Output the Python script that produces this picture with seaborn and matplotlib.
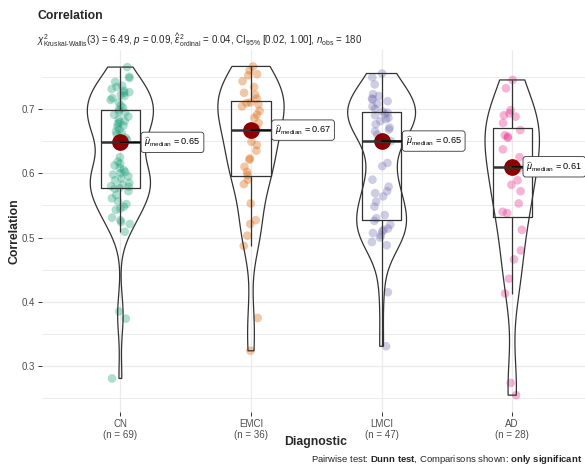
import numpy as np
import pandas as pd
import matplotlib
matplotlib.use("Agg")
import matplotlib.pyplot as plt
import seaborn as sns

# Diagnostic groups and the correlation values observed in each
groups = ["CN", "EMCI", "LMCI", "AD"]

cn = [0.281, 0.374, 0.385, 0.509, 0.521, 0.524, 0.527, 0.531, 0.543, 0.545,
      0.548, 0.552, 0.556, 0.561, 0.566, 0.572, 0.576,
      0.577, 0.579, 0.580, 0.582, 0.585, 0.589, 0.592, 0.595, 0.598, 0.600,
      0.602, 0.605, 0.608, 0.612, 0.615, 0.618, 0.625,
      0.648,
      0.652, 0.655, 0.660, 0.662, 0.665, 0.668, 0.672, 0.674, 0.677, 0.679,
      0.681, 0.684, 0.688, 0.691, 0.694, 0.696, 0.699,
      0.702, 0.705, 0.710, 0.714, 0.717, 0.720, 0.722, 0.725, 0.726, 0.728,
      0.731, 0.734, 0.736, 0.742, 0.748, 0.750, 0.765]

emci = [0.324, 0.375, 0.487, 0.503, 0.521, 0.527, 0.553, 0.583, 0.590, 0.597,
        0.602, 0.610, 0.621, 0.623, 0.635, 0.644, 0.649, 0.664, 0.670, 0.678,
        0.686, 0.691, 0.697, 0.704, 0.707, 0.709, 0.710, 0.716, 0.722, 0.725,
        0.734, 0.743, 0.752, 0.754, 0.760, 0.766]

lmci = [0.331, 0.415, 0.488, 0.493, 0.500, 0.504, 0.507, 0.510, 0.512, 0.514,
        0.520, 0.526, 0.530, 0.535, 0.548, 0.556, 0.564, 0.569, 0.572, 0.579,
        0.590, 0.611, 0.616, 0.650, 0.660, 0.665, 0.668, 0.671, 0.676, 0.681,
        0.684, 0.686, 0.690, 0.692, 0.694, 0.696, 0.700, 0.704, 0.708, 0.712,
        0.715, 0.716, 0.720, 0.723, 0.738, 0.749, 0.755]

ad = [0.255, 0.274, 0.413, 0.436, 0.466, 0.480, 0.512, 0.538, 0.540, 0.553,
      0.572, 0.582, 0.589, 0.608, 0.612, 0.625, 0.637, 0.655, 0.657, 0.659,
      0.667, 0.678, 0.688, 0.690, 0.693, 0.698, 0.732, 0.745]

palette = ["#1B9E77", "#D95F02", "#7570B3", "#E7298A"]

title = "Correlation"
subtitle = (r"$\chi^{2}_{\text{Kruskal-Wallis}}$(3) = 6.49, $\mathit{p}$ = 0.09, "
            r"$\widehat{\epsilon}^{2}_{\mathrm{ordinal}}$ = 0.04, "
            r"CI$_{\mathrm{95\%}}$ [0.02, 1.00], $\mathit{n}_{\mathrm{obs}}$ = 180")
caption = (r"Pairwise test: $\mathbf{Dunn\ test}$, Comparisons shown: "
           r"$\mathbf{only\ significant}$")

sns.set_theme(style="white")
plt.rcParams["font.family"] = ["Liberation Sans", "DejaVu Sans"]
plt.rcParams["mathtext.fontset"] = "custom"
plt.rcParams["mathtext.rm"] = "Liberation Sans"
plt.rcParams["mathtext.it"] = "Liberation Sans:italic"
plt.rcParams["mathtext.bf"] = "Liberation Sans:bold"

values = [cn, emci, lmci, ad]
df = pd.DataFrame({
    "Diagnostic": np.repeat(groups, [len(v) for v in values]),
    "Correlation": np.concatenate(values),
})
tick_labels = [f"{g}\n(n = {len(v)})" for g, v in zip(groups, values)]

W, H = 585, 470
fig = plt.figure(figsize=(W / 100, H / 100), dpi=100)
left, right, top, bottom = 42, 590.6, 50, 411.6
ax = fig.add_axes([left / W, 1 - bottom / H, (right - left) / W, (bottom - top) / H])
ax.set_axisbelow(True)

np.random.seed(7)
sns.stripplot(data=df, x="Diagnostic", y="Correlation", hue="Diagnostic",
              order=groups, hue_order=groups, palette=palette, jitter=0.075,
              size=6.2, alpha=0.35, linewidth=0, legend=False, ax=ax, zorder=1)
sns.boxplot(data=df, x="Diagnostic", y="Correlation", order=groups, width=0.3,
            fill=False, color="#333333", showfliers=False, showcaps=False,
            linewidth=0.9, medianprops=dict(linewidth=1.8, color="#333333"), ax=ax)
sns.violinplot(data=df, x="Diagnostic", y="Correlation", order=groups, width=0.52,
               fill=False, color="#333333", inner=None, cut=0, density_norm="area",
               bw_method="silverman", bw_adjust=0.75, linewidth=0.9, ax=ax)
sns.pointplot(data=df, x="Diagnostic", y="Correlation", order=groups,
              estimator="median", errorbar=None, linestyle="none", marker="o",
              markersize=10, color="#8B0000", ax=ax)
for c in ax.collections[-1:]:
    c.set_zorder(5)

medians = df.groupby("Diagnostic")["Correlation"].median().reindex(groups)
label_offsets = [24, 24, 24, 14]
for i, g in enumerate(groups):
    m = medians[g]
    ax.annotate(rf"$\widehat{{\mu}}_{{\mathrm{{median}}}}$ = {m:.2f}",
                xy=(i, m), xytext=(label_offsets[i], 0), textcoords="offset pixels",
                ha="left", va="center", fontsize=6.6, color="black",
                bbox=dict(boxstyle="round,pad=0.35,rounding_size=0.3", fc="white",
                          ec="#333333", lw=0.6),
                arrowprops=dict(arrowstyle="-", color="black", lw=0.9,
                                shrinkA=0, shrinkB=0),
                zorder=6, annotation_clip=False)

lo, hi = df["Correlation"].min(), df["Correlation"].max()
span = hi - lo
ax.set_ylim(lo - 0.05 * span, hi + 0.05 * span)
ax.set_xlim(-0.6, 3.6)

ax.set_yticks([0.3, 0.4, 0.5, 0.6, 0.7])
ax.set_yticks([0.25, 0.35, 0.45, 0.55, 0.65, 0.75], minor=True)
ax.set_xticks(range(len(groups)))
ax.set_xticklabels(tick_labels, linespacing=1.15)
ax.yaxis.grid(True, which="major", color="#EBEBEB", lw=0.9)
ax.yaxis.grid(True, which="minor", color="#EBEBEB", lw=0.7)
ax.xaxis.grid(True, which="major", color="#EBEBEB", lw=0.9)
ax.tick_params(axis="both", which="major", length=3, width=0.7, color="#333333",
               labelsize=7, labelcolor="#4D4D4D", pad=2, bottom=True, left=True)
ax.tick_params(axis="both", which="minor", length=0)
sns.despine(ax=ax, left=True, bottom=True, top=True, right=True)

ax.set_xlabel("Diagnostic", fontweight="bold", fontsize=8.8)
ax.set_ylabel("Correlation", fontweight="bold", fontsize=8.8)
ax.xaxis.set_label_coords((316 - left) / (right - left), (H - 442 - (H - bottom)) / (bottom - top))
ax.xaxis.label.set_va("center")
ax.yaxis.set_label_coords((14 - left) / (right - left), 0.5)
ax.yaxis.label.set_va("center")

fig.text(37 / W, 1 - 16 / H, title, fontweight="bold", fontsize=8.8, va="center", ha="left")
fig.text(37 / W, 1 - 40 / H, subtitle, fontsize=7, va="center", ha="left")
fig.text(582 / W, 1 - 460 / H, caption, fontsize=6.8, va="center", ha="right")

fig.savefig("out.png", dpi=100)
